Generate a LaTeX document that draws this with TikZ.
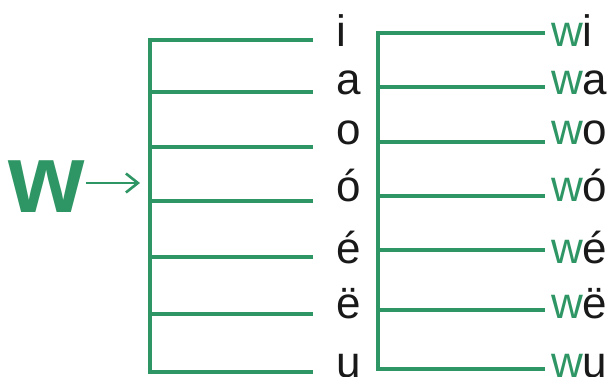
\documentclass[tikz,border=0pt]{standalone}
\usepackage{fontspec}
\setmainfont{Liberation Sans}
\usetikzlibrary{arrows.meta}
\definecolor{wgreen}{RGB}{46,150,100}
\definecolor{inkc}{RGB}{25,25,25}
\begin{document}
\begin{tikzpicture}[x=1pt,y=-1pt,
  bar/.style={draw=wgreen,line width=4.8pt},
  vowel/.style={anchor=base west,inner sep=0pt,text=inkc,font=\fontsize{44}{44}\selectfont},
  syl/.style={anchor=base west,inner sep=0pt,text=inkc,font=\fontsize{44}{44}\selectfont},
  bigw/.style={anchor=base west,inner sep=0pt,text=wgreen,font=\fontsize{98}{98}\selectfont\bfseries},
  pointer/.style={draw=wgreen,line width=2.6pt,-{Straight Barb[length=12pt,width=19pt,line width=2.6pt]}}]
\useasboundingbox (0,0) rectangle (611,377);
% big w and arrow
\node[bigw] (W) at (8,213) {w};
\coordinate (a0) at (86,183);
\coordinate (a1) at (140,183);
\draw[pointer] (a0) -- (a1);
% left bracket
\foreach \i/\y in {1/40,2/92,3/147,4/201,5/257,6/314,7/372}{
  \coordinate (LS\i) at (150,\y);
  \coordinate (LE\i) at (313,\y);
}
\draw[bar] (LE1) -- (LS1) -- (LS7) -- (LE7);
\foreach \i in {2,...,6}{\draw[bar] (LS\i) -- (LE\i);}
% right bracket
\foreach \i/\y in {1/33,2/87,3/142,4/196,5/250,6/310,7/369}{
  \coordinate (RS\i) at (378,\y);
  \coordinate (RE\i) at (545,\y);
}
\draw[bar] (RE1) -- (RS1) -- (RS7) -- (RE7);
\foreach \i in {2,...,6}{\draw[bar] (RS\i) -- (RE\i);}
% vowels
\foreach \i/\y/\v in {1/47/i,2/95/a,3/145/o,4/202/ó,5/263/é,6/318/ë,7/377/u}{
  \node[vowel] (V\i) at (336,\y) {\v};
  \node[syl] (S\i) at (551,\y) {\textcolor{wgreen}{w}\v};
}
\end{tikzpicture}
\end{document}
